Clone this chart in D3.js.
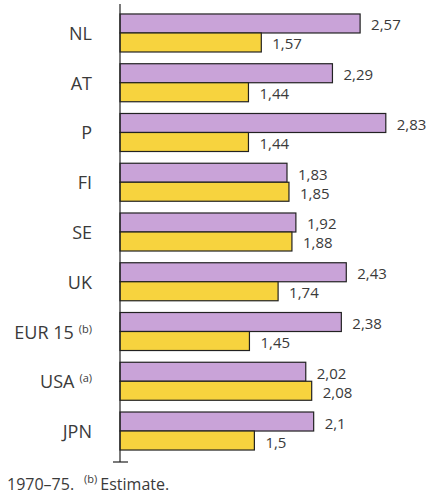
<!DOCTYPE html>
<html>
<head>
<meta charset="utf-8">
<script src="https://cdn.jsdelivr.net/npm/d3@7"></script>
<style>
  body { margin: 0; background: #fff; }
  text { font-family: "Open Sans", sans-serif; fill: #3a3a3a; }
</style>
</head>
<body>
<svg width="428" height="499"></svg>
<script>
const categories = ["NL", "AT", "P", "FI", "SE", "UK", "EUR 15", "USA", "JPN"];
const notes = ["", "", "", "", "", "", "(b)", "(a)", ""];
const seriesNames = ["first", "second"];
const firstValues = [2.57, 2.29, 2.83, 1.83, 1.92, 2.43, 2.38, 2.02, 2.1];
const secondValues = [1.57, 1.44, 1.44, 1.85, 1.88, 1.74, 1.45, 2.08, 1.5];
const valueLabels1 = ["2,57", "2,29", "2,83", "1,83", "1,92", "2,43", "2,38", "2,02", "2,1"];
const valueLabels2 = ["1,57", "1,44", "1,44", "1,85", "1,88", "1,74", "1,45", "2,08", "1,5"];
const colors = ["#c9a3d8", "#f7d33e"];

const svg = d3.select("svg");

const rows = categories.map((c, i) => ({
    cat: c,
    note: notes[i],
    vals: [
        {s: seriesNames[0], v: firstValues[i], label: valueLabels1[i]},
        {s: seriesNames[1], v: secondValues[i], label: valueLabels2[i]}
    ]
}));

var x = d3.scaleLinear().domain([0.14, 3]).range([120, 402.6]);
var y = d3.scaleBand().domain(categories).range([9, 455]).paddingInner(0.236).paddingOuter(0.1);
var ySub = d3.scaleBand().domain(seriesNames).range([0, y.bandwidth()]);

var group = svg.append('g')
    .selectAll('g')
    .data(rows)
    .enter().append('g')
    .attr('transform', d => `translate(0,${y(d.cat)})`);

group.selectAll('rect')
    .data(d => d.vals)
    .enter().append('rect')
    .attr('x', x(0.14))
    .attr('y', d => ySub(d.s))
    .attr('width', d => x(d.v) - x(0.14))
    .attr('height', ySub.bandwidth())
    .attr('fill', (d, i) => colors[i])
    .attr('stroke', '#222')
    .attr('stroke-width', 1.2);

group.selectAll('text.val')
    .data(d => d.vals)
    .enter().append('text')
    .attr('class', 'val')
    .attr('x', d => x(d.v) + 11)
    .attr('y', d => ySub(d.s) + ySub.bandwidth() / 2 + 7)
    .attr('font-size', 15)
    .text(d => d.label);

var cat = group.append('text')
    .attr('x', 92)
    .attr('y', y.bandwidth() / 2 + 7)
    .attr('text-anchor', 'end')
    .attr('font-size', 18);
cat.append('tspan').text(d => d.cat);
cat.filter(d => d.note).append('tspan')
    .attr('dx', 5)
    .attr('dy', -6)
    .attr('font-size', 11)
    .text(d => d.note);

// axis line with small foot tick
svg.append('line')
    .attr('x1', x(0.14)).attr('x2', x(0.14))
    .attr('y1', 4).attr('y2', 462)
    .attr('stroke', '#222').attr('stroke-width', 1.2);
svg.append('line')
    .attr('x1', 113).attr('x2', 128)
    .attr('y1', 462).attr('y2', 462)
    .attr('stroke', '#222').attr('stroke-width', 1.2);

var foot = svg.append('text')
    .attr('x', 7)
    .attr('y', 490)
    .attr('font-size', 16);
foot.append('tspan').text('1970–75.');
foot.append('tspan').attr('dx', 10).attr('dy', -7).attr('font-size', 11).text('(b)');
foot.append('tspan').attr('dx', 3).attr('dy', 7).text('Estimate.');
</script>
</body>
</html>
